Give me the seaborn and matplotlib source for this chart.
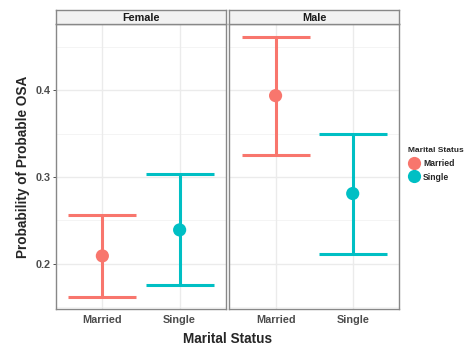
import matplotlib
matplotlib.use("Agg")
import matplotlib.pyplot as plt
from matplotlib.lines import Line2D
import seaborn as sns
import pandas as pd

sns.set_theme(style="white")
plt.rcParams["font.family"] = ["Liberation Sans", "DejaVu Sans"]

# Predicted probabilities with confidence limits
sex = ["Female", "Female", "Male", "Male"]
status = ["Married", "Single", "Married", "Single"]
prob = [0.209, 0.239, 0.394, 0.281]
lower = [0.162, 0.175, 0.325, 0.211]
upper = [0.256, 0.303, 0.462, 0.350]

categories = ["Married", "Single"]
panels = ["Female", "Male"]
palette = {"Married": "#F8766D", "Single": "#00BFC4"}

df = pd.DataFrame({"sex": sex, "status": status, "prob": prob,
                   "lower": lower, "upper": upper})
df["pos"] = df["status"].map({c: i + 1 for i, c in enumerate(categories)})

W, H = 465, 349
fig = plt.figure(figsize=(W / 100, H / 100), dpi=100)


def frac(x0, y0, x1, y1):
    return [x0 / W, 1 - y1 / H, (x1 - x0) / W, (y1 - y0) / H]


panel_x = [(56, 226), (229.3, 399)]
ylo, yhi = 0.1477, 0.4767
grey_text = "#4D4D4D"

axes = []
for k, (name, (x0, x1)) in enumerate(zip(panels, panel_x)):
    ax = fig.add_axes(frac(x0, 24, x1, 309))
    axes.append(ax)
    sub = df[df["sex"] == name]
    ax.set_xlim(0.4, 2.6)
    ax.set_ylim(ylo, yhi)
    # grid lines
    for y in [0.15, 0.25, 0.35, 0.45]:
        ax.axhline(y, color="#F2F2F2", lw=0.6, zorder=0)
    for y in [0.2, 0.3, 0.4]:
        ax.axhline(y, color="#EBEBEB", lw=1.0, zorder=0)
    for x in [1, 2]:
        ax.axvline(x, color="#EBEBEB", lw=1.0, zorder=0)
    for _, r in sub.iterrows():
        ax.errorbar(r["pos"], r["prob"],
                    yerr=[[r["prob"] - r["lower"]], [r["upper"] - r["prob"]]],
                    fmt="none", ecolor=palette[r["status"]], elinewidth=2.2,
                    capsize=24.8, capthick=2.2, zorder=2)
    sns.scatterplot(data=sub, x="pos", y="prob", hue="status",
                    palette=palette, s=90, linewidth=0, legend=False,
                    ax=ax, zorder=3)
    ax.set_xlabel("")
    ax.set_ylabel("")
    ax.set_xticks([1, 2])
    ax.set_xticklabels(categories, fontsize=7.8, fontweight="bold", color=grey_text)
    ax.tick_params(axis="x", length=2, width=0.6, color="#333333", pad=2)
    if k == 0:
        ax.set_yticks([0.2, 0.3, 0.4])
        ax.set_yticklabels(["0.2", "0.3", "0.4"], fontsize=7.8,
                           fontweight="bold", color=grey_text)
        ax.tick_params(axis="y", length=2, width=0.6, color="#333333", pad=2,
                       left=True)
    else:
        ax.set_yticks([0.2, 0.3, 0.4])
        ax.set_yticklabels([])
        ax.tick_params(axis="y", length=0)
    for sp in ax.spines.values():
        sp.set_color("#888888")
        sp.set_linewidth(1.0)

    # facet strip
    sax = fig.add_axes(frac(x0, 10, x1, 24))
    sax.set_facecolor("#F2F2F2")
    sax.set_xticks([])
    sax.set_yticks([])
    for sp in sax.spines.values():
        sp.set_color("#888888")
        sp.set_linewidth(1.0)
    sax.text(0.5, 0.45, name, ha="center", va="center", fontsize=7.8,
             fontweight="bold", color="#1A1A1A", transform=sax.transAxes)

fig.text(23 / W, 1 - 167 / H, "Probability of Probable OSA", rotation=90,
         ha="center", va="center", fontsize=9.8, fontweight="bold")
fig.text(227.5 / W, 1 - 339 / H, "Marital Status", ha="center", va="center",
         fontsize=9.8, fontweight="bold")

handles = [Line2D([], [], marker="o", linestyle="none", markersize=9.5,
                  markerfacecolor=palette[c], markeredgewidth=0)
           for c in categories]
leg = fig.legend(handles, categories, title="Marital Status",
                 loc="upper left", bbox_to_anchor=(402 / W, 1 - 141 / H),
                 frameon=False, fontsize=6.2, title_fontsize=6.0,
                 handletextpad=0.25, labelspacing=0.55, borderpad=0.2,
                 handlelength=1.5)
leg.get_title().set_fontweight("bold")
leg._legend_box.align = "left"
for t in leg.get_texts():
    t.set_fontweight("bold")

fig.savefig("out.png", dpi=100)
